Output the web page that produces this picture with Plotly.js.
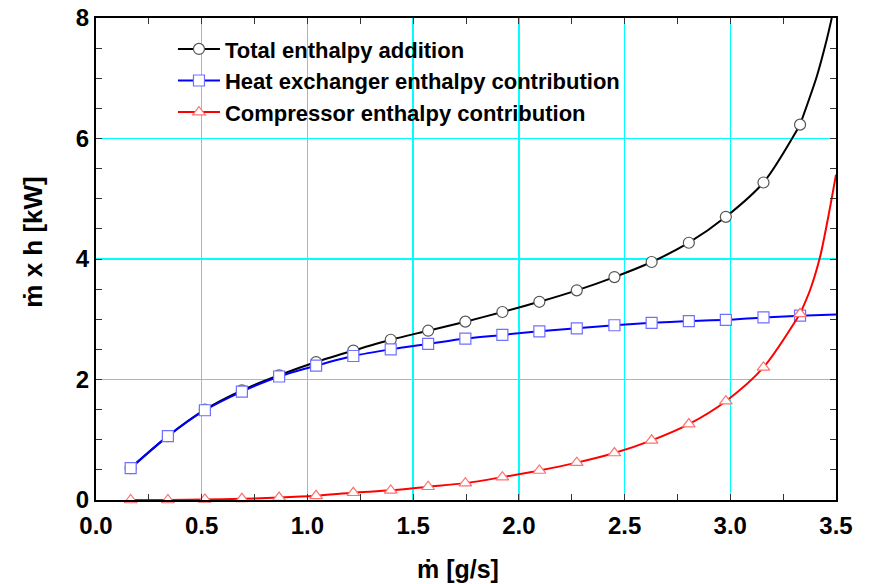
<!DOCTYPE html>
<html>
<head>
<meta charset="utf-8">
<script src="https://cdn.plot.ly/plotly-3.0.1.min.js"></script>
<style>html,body{margin:0;padding:0;background:#fff;}#chart{width:869px;height:584px;}</style>
</head>
<body>
<div id="chart"></div>
<script>
// Mass flow at marker positions [g/s]
const mdot = [0.164, 0.340, 0.515, 0.690, 0.866, 1.041, 1.217, 1.394, 1.571, 1.747,
              1.922, 2.097, 2.274, 2.452, 2.628, 2.804, 2.979, 3.157, 3.330];
// Total enthalpy addition [kW]
const totalH = [0.53, 1.06, 1.50, 1.82, 2.07, 2.29, 2.48, 2.66, 2.81, 2.96,
                3.12, 3.29, 3.48, 3.70, 3.95, 4.27, 4.70, 5.27, 6.23];
// Heat exchanger enthalpy contribution [kW]
const hxH = [0.53, 1.06, 1.49, 1.80, 2.05, 2.23, 2.39, 2.50, 2.59, 2.68,
             2.74, 2.80, 2.85, 2.90, 2.94, 2.97, 2.99, 3.03, 3.06];
// Compressor enthalpy contribution [kW]
const compH = [0.00, 0.00, 0.01, 0.02, 0.04, 0.07, 0.12, 0.16, 0.22, 0.28,
               0.38, 0.49, 0.62, 0.78, 0.99, 1.26, 1.64, 2.20, 3.09];

// Curve continuation beyond the last marker
const totalExtX = [3.330, 3.409, 3.456, 3.480];
const totalExtY = [6.23, 7.03, 7.64, 8.00];
const hxExtX = [3.330, 3.500];
const hxExtY = [3.06, 3.08];
const compExtX = [3.330, 3.378, 3.425, 3.464, 3.500];
const compExtY = [3.09, 3.49, 4.04, 4.71, 5.40];

const tickX = [0.0, 0.5, 1.0, 1.5, 2.0, 2.5, 3.0, 3.5];
const tickXText = ['0.0', '0.5', '1.0', '1.5', '2.0', '2.5', '3.0', '3.5'];
const tickY = [0, 2, 4, 6, 8];

const xTitle = '\u1E41 [g/s]';
const yTitle = '\u1E41 x h [kW]';

const FONT = 'Liberation Sans, Arial, sans-serif';

function markerTrace(name, y, color, mcolor, symbol, size) {
  return {
    x: mdot, y: y, name: name, type: 'scatter', mode: 'lines+markers',
    line: {color: color, width: 2, shape: 'spline', smoothing: 0.8},
    marker: {symbol: symbol, size: size, color: 'white', line: {color: mcolor, width: 1.2}},
    cliponaxis: false
  };
}
function extTrace(x, y, color) {
  return {x: x, y: y, type: 'scatter', mode: 'lines', showlegend: false, hoverinfo: 'skip',
          line: {color: color, width: 2, shape: 'spline', smoothing: 0.8}};
}

const data = [
  extTrace(totalExtX, totalExtY, 'black'),
  markerTrace('Total enthalpy addition', totalH, 'black', '#555555', 'circle', 11),
  extTrace(hxExtX, hxExtY, '#0000ff'),
  markerTrace('Heat exchanger enthalpy contribution', hxH, '#0000ff', '#7070ff', 'square', 11),
  extTrace(compExtX, compExtY, '#ff0000'),
  markerTrace('Compressor enthalpy contribution', compH, '#ff0000', '#ff7070', 'triangle-up', 11)
];

const layout = {
  width: 869, height: 584,
  margin: {l: 96, r: 33, t: 18, b: 84},
  paper_bgcolor: 'white', plot_bgcolor: 'white',
  font: {family: FONT, color: 'black'},
  showlegend: true,
  legend: {
    x: 0.104, y: 0.979, xanchor: 'left', yanchor: 'top',
    bgcolor: 'rgba(0,0,0,0)', borderwidth: 0,
    font: {family: FONT, size: 22, color: 'black', weight: 'bold'},
    tracegroupgap: 0, itemwidth: 42
  },
  xaxis: {
    range: [0, 3.5], tickvals: tickX, ticktext: tickXText,
    showgrid: true, gridcolor: '#00ffff', gridwidth: 1.5,
    zeroline: false, showline: true, linecolor: 'black', linewidth: 2, mirror: 'ticks',
    ticks: 'inside', ticklen: 6, tickwidth: 1, tickcolor: '#333',
    minor: {dtick: 0.25, ticks: 'inside', ticklen: 6, tickwidth: 1, tickcolor: '#333', showgrid: false},
    tickfont: {family: FONT, size: 24, weight: 'bold'}, ticklabelstandoff: 3
  },
  yaxis: {
    range: [0, 8], tickvals: tickY,
    showgrid: true, gridcolor: '#00ffff', gridwidth: 1.5,
    zeroline: false, showline: true, linecolor: 'black', linewidth: 2, mirror: 'ticks',
    ticks: 'inside', ticklen: 6, tickwidth: 1, tickcolor: '#333',
    minor: {dtick: 0.5, ticks: 'inside', ticklen: 6, tickwidth: 1, tickcolor: '#333', showgrid: false},
    tickfont: {family: FONT, size: 24, weight: 'bold'}
  },
  annotations: [
    {text: xTitle, xref: 'paper', yref: 'paper', x: 0.489, y: -0.144,
     xanchor: 'center', yanchor: 'middle', showarrow: false,
     font: {family: FONT, size: 25, weight: 'bold', color: 'black'}},
    {text: yTitle, xref: 'paper', yref: 'paper', x: -0.085, y: 0.534, textangle: -90,
     xanchor: 'center', yanchor: 'middle', showarrow: false,
     font: {family: FONT, size: 26, weight: 'bold', color: 'black'}}
  ]
};

Plotly.newPlot('chart', data, layout, {displayModeBar: false, staticPlot: true});
</script>
</body>
</html>
